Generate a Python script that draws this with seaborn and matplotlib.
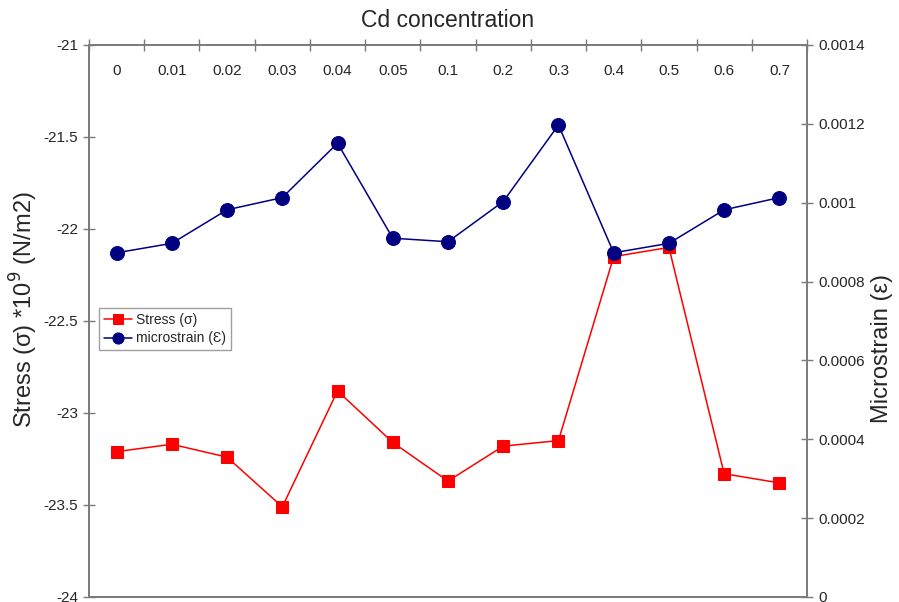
import matplotlib
matplotlib.use("Agg")
import matplotlib.pyplot as plt
import seaborn as sns
import numpy as np
import pandas as pd

categories = ["0", "0.01", "0.02", "0.03", "0.04", "0.05", "0.1", "0.2", "0.3", "0.4", "0.5", "0.6", "0.7"]
stress = [-23.21, -23.17, -23.24, -23.51, -22.88, -23.16, -23.37, -23.18, -23.15, -22.15, -22.10, -23.33, -23.38]
microstrain = [0.000873, 0.000897, 0.000982, 0.001013, 0.001151, 0.000910, 0.000901, 0.001003, 0.001197, 0.000873, 0.000897, 0.000982, 0.001013]
left_ticks = [-24, -23.5, -23, -22.5, -22, -21.5, -21]
right_ticks = [0, 0.0002, 0.0004, 0.0006, 0.0008, 0.001, 0.0012, 0.0014]

sns.set_theme(style="white")
plt.rcParams['font.family'] = ['Liberation Sans', 'DejaVu Sans']

df = pd.DataFrame({"pos": np.arange(len(categories)), "cat": categories,
                   "stress": stress, "microstrain": microstrain})

fig = plt.figure(figsize=(8.99, 6.02), dpi=100)
ax = fig.add_axes([89/899, 1-597/602, (807-89)/899, (597-45)/602])
ax2 = ax.twinx()

spine_col = "#7a7a7a"

sns.lineplot(data=df, x="pos", y="stress", ax=ax, color="#ff0000", marker="s",
             markersize=9, linewidth=1.1, markeredgecolor="#ff0000", label="Stress (σ)", legend=False)
sns.lineplot(data=df, x="pos", y="microstrain", ax=ax2, color="#000080", marker="o",
             markersize=10, linewidth=1.1, markeredgecolor="#000080", label="microstrain (Ɛ)", legend=False)

ax.set_xlim(-0.5, len(categories) - 0.5)
ax.set_ylim(-24, -21)
ax2.set_ylim(0, 0.0014)

ax.set_yticks(left_ticks)
ax.set_yticklabels([f"{t:g}" for t in left_ticks])
ax2.set_yticks(right_ticks)
ax2.set_yticklabels([f"{t:.4f}".rstrip("0").rstrip(".") if t != 0 else "0" for t in right_ticks])

# x labels at category centres, inside below top spine; ticks at boundaries
ax.set_xticks(df["pos"])
ax.set_xticklabels(categories)
ax.set_xticks(np.arange(len(categories) + 1) - 0.5, minor=True)
ax.tick_params(axis="x", which="major", top=True, bottom=False, labeltop=True,
               labelbottom=False, length=0, pad=-24, labelsize=11)
ax.tick_params(axis="x", which="minor", top=True, bottom=False, direction="inout",
               length=8, width=1, color=spine_col)
ax.tick_params(axis="y", which="major", left=True, direction="inout", length=8, width=1,
               color=spine_col, labelsize=11, pad=4)
ax2.tick_params(axis="y", which="major", right=True, direction="inout", length=8, width=1,
                color=spine_col, labelsize=11, pad=4)

ax.set_xlabel("")
ax.set_title("Cd concentration", fontsize=16.5, pad=13)
ax.set_ylabel("Stress (σ) *10$^{9}$ (N/m2)", fontsize=17)
ax.yaxis.set_label_coords(-0.068, 0.52)
ax2.set_ylabel("Microstrain (ε)", fontsize=17)
ax2.yaxis.set_label_coords(1.089, 0.45)

for a in (ax, ax2):
    for s in a.spines.values():
        s.set_color(spine_col)
        s.set_linewidth(1.2)
ax.spines["top"].set_visible(True)

h1, l1 = ax.get_legend_handles_labels()
h2, l2 = ax2.get_legend_handles_labels()
leg = ax2.legend(h1 + h2, l1 + l2, loc="lower left", bbox_to_anchor=(0.014, 0.447),
                 borderaxespad=0, fontsize=10, frameon=True, fancybox=False,
                 edgecolor="#888888", handlelength=2.0, handletextpad=0.3,
                 borderpad=0.35, labelspacing=0.3, markerscale=0.8)
leg.get_frame().set_linewidth(1.0)

fig.savefig("out.png", dpi=100)
